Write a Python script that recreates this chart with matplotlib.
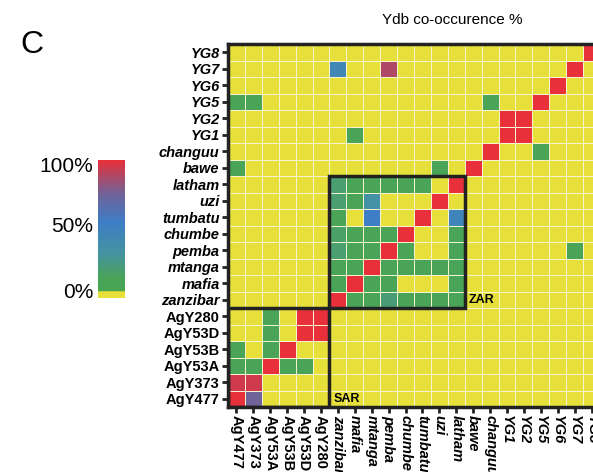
import numpy as np
import matplotlib
matplotlib.use("Agg")
import matplotlib.pyplot as plt
from matplotlib.colors import LinearSegmentedColormap
from matplotlib.patches import Rectangle

plt.rcParams['font.family'] = ['Liberation Sans', 'DejaVu Sans']

# column order (left to right) and row order (top to bottom)
cols = ["AgY477", "AgY373", "AgY53A", "AgY53B", "AgY53D", "AgY280",
        "zanzibar", "mafia", "mtanga", "pemba", "chumbe", "tumbatu", "uzi", "latham",
        "bawe", "changuu", "YG1", "YG2", "YG5", "YG6", "YG7", "YG8"]
rows = ["YG8", "YG7", "YG6", "YG5", "YG2", "YG1", "changuu", "bawe",
        "latham", "uzi", "tumbatu", "chumbe", "pemba", "mtanga", "mafia", "zanzibar",
        "AgY280", "AgY53D", "AgY53B", "AgY53A", "AgY373", "AgY477"]

# co-occurrence % (estimated from colours), one list per row
co_occ = [
    [0, 0, 0, 0, 0, 0, 0, 0, 0, 0, 0, 0, 0, 0, 0, 0, 0, 0, 0, 0, 0, 100],
    [0, 0, 0, 0, 0, 0, 45, 0, 0, 88, 0, 0, 0, 0, 0, 0, 0, 0, 0, 0, 100, 0],
    [0, 0, 0, 0, 0, 0, 0, 0, 0, 0, 0, 0, 0, 0, 0, 0, 0, 0, 0, 100, 0, 0],
    [12, 12, 0, 0, 0, 0, 0, 0, 0, 0, 0, 0, 0, 0, 0, 12, 0, 0, 100, 0, 0, 0],
    [0, 0, 0, 0, 0, 0, 0, 0, 0, 0, 0, 0, 0, 0, 0, 0, 100, 100, 0, 0, 0, 0],
    [0, 0, 0, 0, 0, 0, 0, 12, 0, 0, 0, 0, 0, 0, 0, 0, 100, 100, 0, 0, 0, 0],
    [0, 0, 0, 0, 0, 0, 0, 0, 0, 0, 0, 0, 0, 0, 0, 100, 0, 0, 12, 0, 0, 0],
    [12, 0, 0, 0, 0, 0, 0, 0, 0, 0, 0, 0, 12, 0, 100, 0, 0, 0, 0, 0, 0, 0],
    [0, 0, 0, 0, 0, 0, 20, 12, 12, 12, 12, 12, 0, 100, 0, 0, 0, 0, 0, 0, 0, 0],
    [0, 0, 0, 0, 0, 0, 20, 12, 35, 0, 0, 0, 100, 0, 0, 0, 0, 0, 0, 0, 0, 0],
    [0, 0, 0, 0, 0, 0, 12, 0, 55, 0, 0, 100, 0, 48, 0, 0, 0, 0, 0, 0, 0, 0],
    [0, 0, 0, 0, 0, 0, 18, 12, 12, 12, 100, 0, 0, 12, 0, 0, 0, 0, 0, 0, 0, 0],
    [0, 0, 0, 0, 0, 0, 20, 12, 12, 100, 12, 0, 0, 12, 0, 0, 0, 0, 0, 0, 12, 0],
    [0, 0, 0, 0, 0, 0, 12, 12, 100, 12, 12, 12, 12, 12, 0, 0, 0, 0, 0, 0, 0, 0],
    [0, 0, 0, 0, 0, 0, 12, 100, 12, 12, 0, 0, 0, 12, 0, 0, 0, 0, 0, 0, 0, 0],
    [0, 0, 0, 0, 0, 0, 100, 12, 12, 22, 12, 12, 12, 12, 0, 0, 0, 0, 0, 0, 0, 0],
    [0, 0, 12, 0, 100, 100, 0, 0, 0, 0, 0, 0, 0, 0, 0, 0, 0, 0, 0, 0, 0, 0],
    [0, 0, 12, 0, 100, 100, 0, 0, 0, 0, 0, 0, 0, 0, 0, 0, 0, 0, 0, 0, 0, 0],
    [12, 0, 12, 100, 0, 0, 0, 0, 0, 0, 0, 0, 0, 0, 0, 0, 0, 0, 0, 0, 0, 0],
    [12, 12, 100, 12, 12, 0, 0, 0, 0, 0, 0, 0, 0, 0, 0, 0, 0, 0, 0, 0, 0, 0],
    [95, 95, 0, 0, 0, 0, 0, 0, 0, 0, 0, 0, 0, 0, 0, 0, 0, 0, 0, 0, 0, 0],
    [100, 75, 0, 0, 0, 0, 0, 0, 0, 0, 0, 0, 0, 0, 0, 0, 0, 0, 0, 0, 0, 0],
]
data = np.array(co_occ, dtype=float)

cmap = LinearSegmentedColormap.from_list("ydb", [
    (0.0, "#e8e03a"), (0.045, "#e8e03a"), (0.05, "#46a552"),
    (0.15, "#4aa45a"), (0.32, "#4593a0"), (0.55, "#3e7ec6"),
    (0.75, "#6e649a"), (1.0, "#e8303a")])

fig = plt.figure(figsize=(5.93, 4.72), dpi=100)
ax = fig.add_axes([228 / 593, 65 / 472, 372 / 593, 363 / 472])

ax.pcolormesh(data, cmap=cmap, vmin=0, vmax=100,
              edgecolors="#f6f3d0", linewidth=0.7)
ax.set_xlim(0, len(cols))
ax.set_ylim(len(rows), 0)

ax.set_xticks(np.arange(len(cols)) + 0.5)
ax.set_yticks(np.arange(len(rows)) + 0.5)
ax.set_xticklabels(cols, rotation=-90, fontsize=10.5, fontweight="bold")
ax.set_yticklabels(rows, fontsize=10.5, fontweight="bold")
for lab in ax.get_xticklabels() + ax.get_yticklabels():
    if not lab.get_text().startswith("AgY"):
        lab.set_fontstyle("italic")
ax.tick_params(length=4, width=2, pad=2, color="#222222")
for s in ax.spines.values():
    s.set_linewidth(2.5)
    s.set_color("#222222")

# group boxes
ax.add_patch(Rectangle((6, 8), 8, 8, fill=False, lw=2.5, ec="#222222", zorder=5))
ax.add_patch(Rectangle((0, 16), 6, 6, fill=False, lw=2.5, ec="#222222", zorder=5))
ax.text(14.25, 15.5, "ZAR", fontsize=9, fontweight="bold", va="center", ha="left")
ax.text(6.25, 21.5, "SAR", fontsize=9, fontweight="bold", va="center", ha="left")

# colour bar
cax = fig.add_axes([98 / 593, (472 - 298) / 472, 27 / 593, 138 / 472])
grad = np.linspace(0, 100, 256).reshape(-1, 1)
cax.imshow(grad, cmap=cmap, aspect="auto", origin="lower", vmin=0, vmax=100)
cax.set_axis_off()
fig.text(93 / 593, 1 - 166 / 472, "100%", fontsize=15, ha="right", va="center")
fig.text(93 / 593, 1 - 226 / 472, "50%", fontsize=15, ha="right", va="center")
fig.text(93 / 593, 1 - 293 / 472, "0%", fontsize=15, ha="right", va="center")

fig.text(20 / 593, 1 - 45 / 472, "C", fontsize=23, ha="left", va="center")
fig.text(452 / 593, 1 - 20 / 472, "Ydb co-occurence %", fontsize=11, ha="center", va="center")

fig.savefig("out.png", dpi=100)
